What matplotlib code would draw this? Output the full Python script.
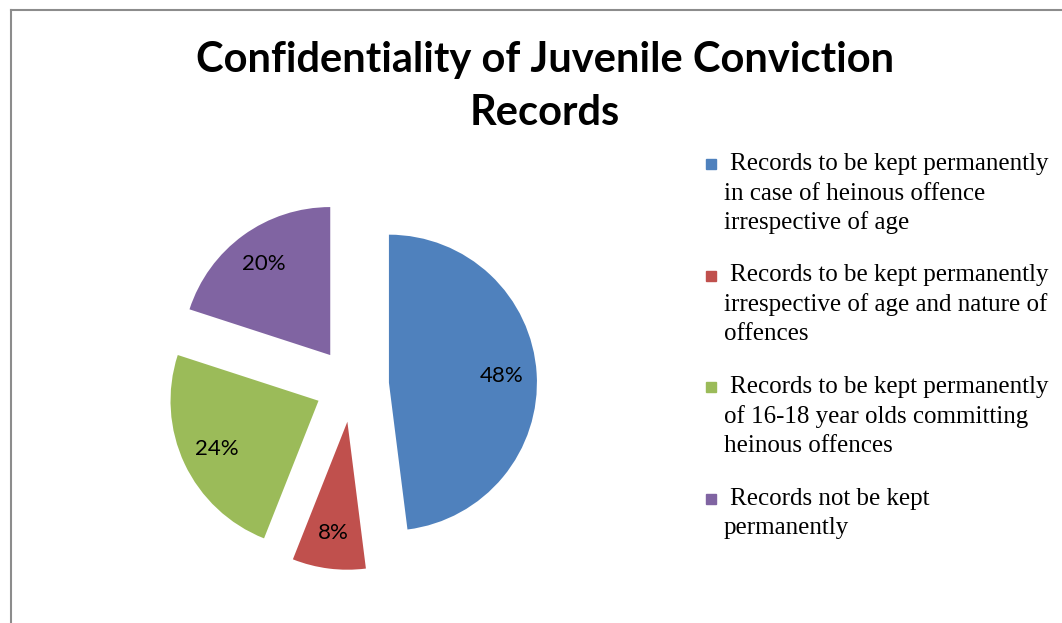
import matplotlib.pyplot as plt
from matplotlib.lines import Line2D
from matplotlib.patches import Rectangle

title = 'Confidentiality of Juvenile Conviction\nRecords'
labels = ['Records to be kept permanently\nin case of heinous offence\nirrespective of age',
          'Records to be kept permanently\nirrespective of age and nature of\noffences',
          'Records to be kept permanently\nof 16-18 year olds committing\nheinous offences',
          'Records not be kept\npermanently']
values = [48, 8, 24, 20]
colors = ['#4F81BD', '#C0504D', '#9BBB59', '#8064A2']

W, H = 1062, 623
fig = plt.figure(figsize=(W / 100, H / 100), dpi=100)

# pie axes, centre at (352, 385) px, radius 148 px
cx, cy, r, half = 352, 385, 148, 210
ax = fig.add_axes([(cx - half) / W, (H - cy - half) / H, 2 * half / W, 2 * half / H])
wedges, texts, autotexts = ax.pie(values, colors=colors, startangle=90, counterclock=False,
                                  explode=[0.25] * len(values), autopct='%d%%',
                                  pctdistance=0.76, radius=1,
                                  textprops={'family': 'Lato', 'fontsize': 16, 'color': 'black'})
lim = half / r
ax.set_xlim(-lim, lim)
ax.set_ylim(-lim, lim)

fig.text(545 / W, 1 - 60 / H, title.split('\n')[0], ha='center', va='center', fontsize=30,
         fontweight='bold', family='Lato')
fig.text(545 / W, 1 - 113 / H, title.split('\n')[1], ha='center', va='center', fontsize=30,
         fontweight='bold', family='Lato')

# legend drawn by hand
y0, step, lh = 164, 111.5, 29.5
for i, (lab, col) in enumerate(zip(labels, colors)):
    y = y0 + i * step
    fig.add_artist(Rectangle((706 / W, 1 - (y + 5) / H), 10 / W, 10 / H,
                             transform=fig.transFigure, color=col))
    for j, line in enumerate(lab.split('\n')):
        x = 730 if j == 0 else 724
        fig.text(x / W, 1 - (y + j * lh) / H, line, ha='left', va='center',
                 fontsize=18, family='Liberation Serif')

# outer frame
fig.add_artist(Line2D([11 / W, 11 / W], [0, 1 - 10 / H], color='#8c8c8c', lw=1.5))
fig.add_artist(Line2D([11 / W, 1], [1 - 10 / H, 1 - 10 / H], color='#8c8c8c', lw=1.5))

fig.savefig('out.png', dpi=100)
